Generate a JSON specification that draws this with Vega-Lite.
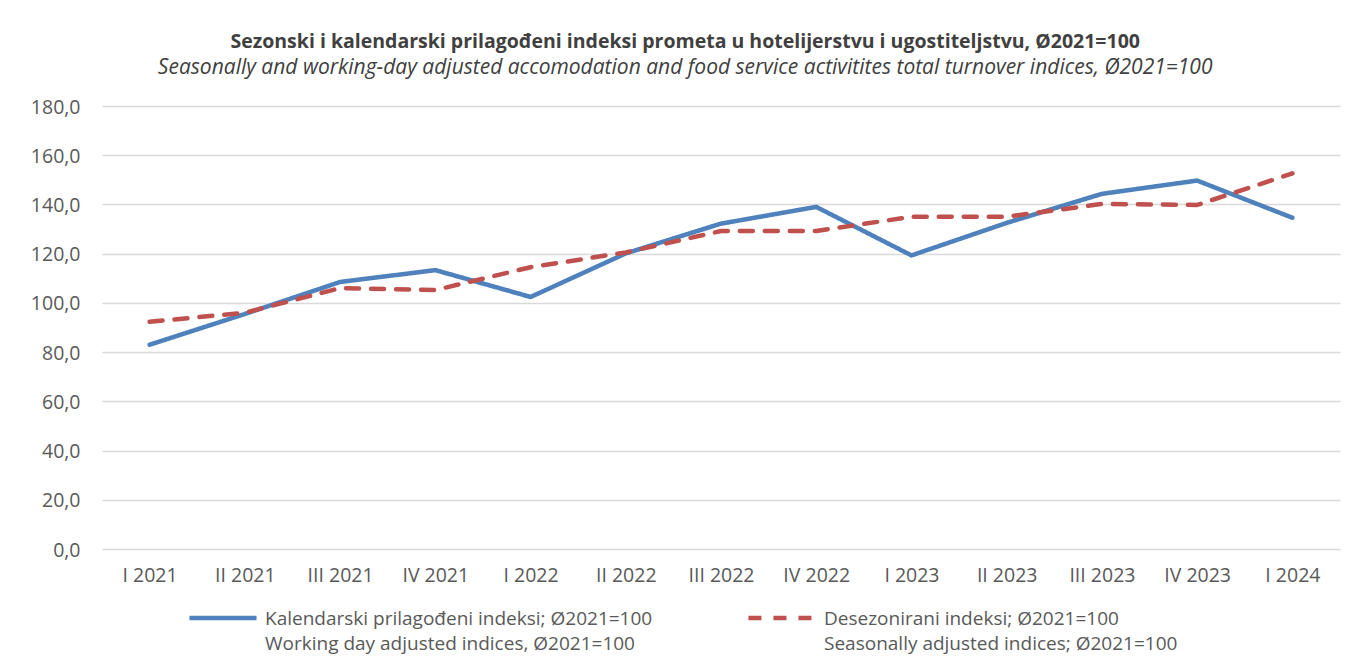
{
  "$schema": "https://vega.github.io/schema/vega-lite/v6.json",
  "width": 1238,
  "height": 443,
  "autosize": {"type": "none"},
  "padding": {"left": 102, "top": 106, "right": 15, "bottom": 117},
  "background": "white",
  "title": {
    "text": "Sezonski i kalendarski prilagođeni indeksi prometa u hotelijerstvu i ugostiteljstvu, Ø2021=100",
    "subtitle": "Seasonally and working-day adjusted accomodation and food service activitites  total turnover indices, Ø2021=100",
    "anchor": "middle",
    "frame": "bounds",
    "font": "Open Sans",
    "fontSize": 19.5,
    "fontWeight": "bold",
    "color": "#404040",
    "subtitleFont": "Open Sans",
    "subtitleFontSize": 21,
    "subtitleFontStyle": "italic",
    "subtitleColor": "#404040",
    "subtitlePadding": 5,
    "offset": 18
  },
  "data": {
    "values": [
      {"period": "I 2021", "series": "K", "value": 83.0},
      {"period": "II 2021", "series": "K", "value": 95.5},
      {"period": "III 2021", "series": "K", "value": 108.5},
      {"period": "IV 2021", "series": "K", "value": 113.3},
      {"period": "I 2022", "series": "K", "value": 102.4},
      {"period": "II 2022", "series": "K", "value": 120.1},
      {"period": "III 2022", "series": "K", "value": 132.2},
      {"period": "IV 2022", "series": "K", "value": 139.0},
      {"period": "I 2023", "series": "K", "value": 119.3},
      {"period": "II 2023", "series": "K", "value": 132.5},
      {"period": "III 2023", "series": "K", "value": 144.3},
      {"period": "IV 2023", "series": "K", "value": 149.7},
      {"period": "I 2024", "series": "K", "value": 134.6},
      {"period": "I 2021", "series": "D", "value": 92.3},
      {"period": "II 2021", "series": "D", "value": 96.0},
      {"period": "III 2021", "series": "D", "value": 106.0},
      {"period": "IV 2021", "series": "D", "value": 105.2},
      {"period": "I 2022", "series": "D", "value": 114.5},
      {"period": "II 2022", "series": "D", "value": 120.5},
      {"period": "III 2022", "series": "D", "value": 129.2},
      {"period": "IV 2022", "series": "D", "value": 129.2},
      {"period": "I 2023", "series": "D", "value": 135.0},
      {"period": "II 2023", "series": "D", "value": 135.0},
      {"period": "III 2023", "series": "D", "value": 140.2},
      {"period": "IV 2023", "series": "D", "value": 139.8},
      {"period": "I 2024", "series": "D", "value": 152.6}
    ]
  },
  "mark": {"type": "line", "strokeWidth": 4.5, "strokeCap": "round", "strokeJoin": "round"},
  "encoding": {
    "x": {
      "field": "period",
      "type": "ordinal",
      "sort": null,
      "scale": {"type": "point", "padding": 0.5},
      "axis": {
        "title": null,
        "labelAngle": 0,
        "domain": false,
        "ticks": false,
        "grid": false,
        "labelPadding": 25,
        "labelBaseline": "top",
        "labelFont": "Open Sans",
        "labelFontSize": 19.5,
        "labelColor": "#595959"
      }
    },
    "y": {
      "field": "value",
      "type": "quantitative",
      "scale": {"domain": [0, 180], "nice": false},
      "axis": {
        "title": null,
        "values": [0, 20, 40, 60, 80, 100, 120, 140, 160, 180],
        "labelExpr": "replace(format(datum.value, '.1f'), '.', ',')",
        "domain": false,
        "ticks": false,
        "gridColor": "#D9D9D9",
        "gridWidth": 1.5,
        "labelPadding": 22,
        "labelBaseline": "top",
        "labelFont": "Open Sans",
        "labelFontSize": 19.5,
        "labelColor": "#595959"
      }
    },
    "color": {
      "field": "series",
      "type": "nominal",
      "scale": {"domain": ["K", "D"], "range": ["#4F81BD", "#C0504D"]},
      "legend": {
        "orient": "none",
        "legendX": 85,
        "legendY": 476,
        "direction": "horizontal",
        "title": null,
        "symbolType": "stroke",
        "symbolSize": 4500,
        "symbolStrokeWidth": 4.5,
        "labelExpr": "datum.value == 'K' ? ['Kalendarski prilagođeni indeksi; Ø2021=100', 'Working day adjusted indices, Ø2021=100'] : ['Desezonirani indeksi; Ø2021=100', 'Seasonally adjusted indices; Ø2021=100']",
        "labelFont": "Open Sans",
        "labelFontSize": 19,
        "labelColor": "#595959",
        "labelLimit": 700,
        "labelOffset": 6,
        "columnPadding": 86,
        "labelBaseline": "top"
      }
    },
    "strokeDash": {
      "field": "series",
      "type": "nominal",
      "scale": {"domain": ["K", "D"], "range": [[1, 0], [13, 12]]},
      "legend": null
    }
  },
  "config": {
    "view": {"stroke": null},
    "style": {"guide-label": {"lineHeight": 25, "dy": -8}}
  }
}
